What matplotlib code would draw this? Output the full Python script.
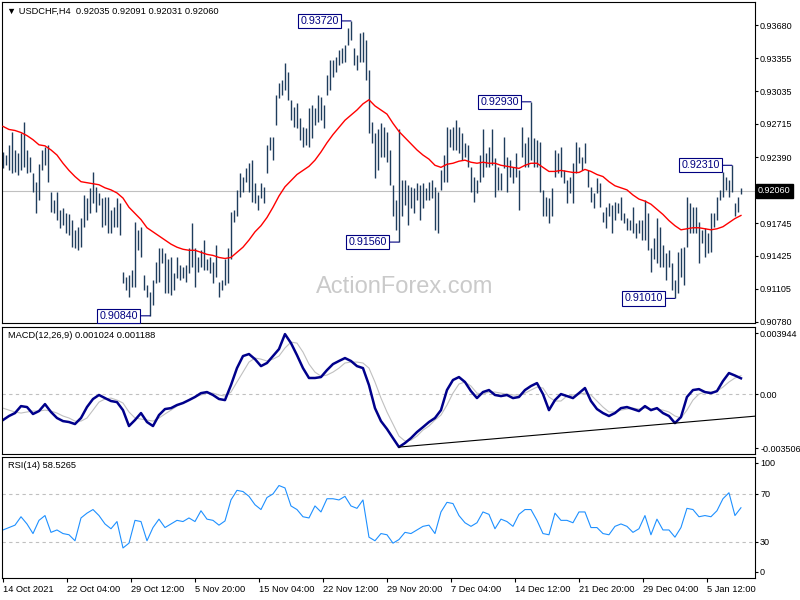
import numpy as np
import matplotlib as mpl
mpl.use('Agg')
import matplotlib.pyplot as plt
import matplotlib.transforms as mtransforms

plt.rcParams['font.family'] = ['Liberation Sans', 'DejaVu Sans']

# USDCHF H4 bars (high / low)
highs = [
    .9244, .9241, .9251, .9264, .9246, .9243, .9263, .9273, .9246, .9239,
    .9223, .9215, .9232, .9246, .9249, .9251, .9205, .9197, .9205, .9187,
    .9189, .9184, .9183, .9178, .9168, .9171, .9180, .9202, .9199, .9209,
    .9224, .9210, .9204, .9199, .9200, .9200, .9187, .9190, .9199, .9194,
    .9127, .9122, .9124, .9129, .9176, .9168, .9171, .9124, .9114, .9107,
    .9119, .9137, .9150, .9150, .9145, .9139, .9141, .9126, .9141, .9134,
    .9132, .9134, .9150, .9175, .9150, .9141, .9148, .9158, .9139, .9141,
    .9137, .9153, .9117, .9119, .9139, .9150, .9185, .9187, .9207, .9223,
    .9220, .9228, .9233, .9236, .9214, .9202, .9214, .9210, .9251, .9259,
    .9259, .9300, .9311, .9314, .9331, .9322, .9295, .9288, .9292, .9277,
    .9268, .9267, .9287, .9290, .9287, .9300, .9298, .9290, .9319, .9334,
    .9334, .9337, .9344, .9346, .9348, .9365, .9372, .9346, .9339, .9360,
    .9361, .9353, .9324, .9273, .9263, .9266, .9272, .9268, .9264, .9246,
    .9212, .9197, .9266, .9217, .9217, .9212, .9210, .9209, .9214, .9212,
    .9214, .9209, .9215, .9217, .9210, .9205, .9226, .9241, .9268, .9266,
    .9268, .9275, .9268, .9263, .9253, .9251, .9229, .9220, .9217, .9241,
    .9266, .9243, .9249, .9266, .9238, .9229, .9223, .9259, .9239, .9236,
    .9229, .9243, .9226, .9268, .9253, .9259, .9293, .9258, .9256, .9254,
    .9207, .9200, .9199, .9209, .9246, .9243, .9249, .9226, .9217, .9220,
    .9233, .9254, .9249, .9239, .9253, .9226, .9210, .9204, .9219, .9214,
    .9185, .9190, .9194, .9192, .9195, .9194, .9200, .9184, .9180, .9178,
    .9190, .9175, .9178, .9178, .9197, .9184, .9150, .9160, .9180, .9171,
    .9153, .9145, .9148, .9136, .9119, .9146, .9150, .9151, .9200, .9194,
    .9190, .9190, .9176, .9168, .9170, .9165, .9184, .9184, .9200, .9207,
    .9224, .9220, .9217, .9231, .9194, .9200, .9209,
]
lows = [
    .9228, .9231, .9226, .9223, .9224, .9222, .9226, .9229, .9223, .9224,
    .9205, .9184, .9197, .9226, .9231, .9215, .9185, .9184, .9178, .9170,
    .9173, .9165, .9163, .9151, .9150, .9148, .9151, .9171, .9178, .9184,
    .9194, .9185, .9192, .9171, .9173, .9165, .9165, .9171, .9171, .9163,
    .9116, .9109, .9102, .9112, .9112, .9148, .9141, .9109, .9102, .9084,
    .9095, .9116, .9117, .9136, .9106, .9106, .9104, .9109, .9121, .9119,
    .9121, .9117, .9126, .9132, .9112, .9127, .9132, .9129, .9129, .9126,
    .9116, .9122, .9102, .9109, .9114, .9116, .9139, .9176, .9181, .9200,
    .9205, .9215, .9205, .9195, .9194, .9187, .9199, .9194, .9223, .9246,
    .9236, .9270, .9297, .9300, .9305, .9295, .9275, .9268, .9267, .9256,
    .9249, .9251, .9249, .9258, .9270, .9273, .9275, .9267, .9300, .9305,
    .9317, .9322, .9329, .9331, .9332, .9348, .9353, .9329, .9324, .9332,
    .9332, .9314, .9263, .9253, .9219, .9226, .9239, .9239, .9234, .9212,
    .9181, .9168, .9156, .9181, .9192, .9173, .9189, .9184, .9197, .9178,
    .9189, .9197, .9197, .9199, .9168, .9165, .9207, .9215, .9215, .9249,
    .9246, .9246, .9243, .9236, .9239, .9229, .9205, .9195, .9204, .9215,
    .9220, .9229, .9229, .9231, .9200, .9207, .9207, .9228, .9205, .9220,
    .9214, .9220, .9187, .9239, .9229, .9229, .9236, .9229, .9229, .9205,
    .9181, .9181, .9175, .9181, .9220, .9223, .9220, .9214, .9194, .9204,
    .9194, .9223, .9233, .9226, .9233, .9210, .9195, .9189, .9204, .9190,
    .9176, .9170, .9181, .9165, .9178, .9184, .9178, .9175, .9168, .9168,
    .9165, .9160, .9165, .9158, .9158, .9148, .9127, .9139, .9136, .9132,
    .9132, .9119, .9132, .9109, .9101, .9106, .9122, .9114, .9151, .9165,
    .9165, .9165, .9136, .9155, .9141, .9145, .9146, .9171, .9178, .9197,
    .9200, .9207, .9200, .9205, .9181, .9185, .9203,
]
last_ohlc = [0.92035, 0.92091, 0.92031, 0.92060]

# indicator values, one every second bar
ma_values = [
    .9269, .9266, .9265, .9263, .9260, .9256, .9251, .9250, .9246, .9241,
    .9233, .9226, .9220, .9215, .9214, .9213, .9212, .9209, .9207, .9204,
    .9199, .9190, .9184, .9178, .9170, .9166, .9162, .9158, .9154, .9151,
    .9149, .9148, .9148, .9146, .9144, .9143, .9141, .9140, .9141, .9146,
    .9151, .9158, .9166, .9172, .9180, .9190, .9201, .9210, .9216, .9222,
    .9226, .9230, .9236, .9244, .9253, .9261, .9268, .9275, .9280, .9285,
    .9291, .9295, .9289, .9285, .9281, .9272, .9264, .9258, .9252, .9246,
    .9241, .9237, .9231, .9229, .9232, .9233, .9235, .9236, .9234, .9233,
    .9234, .9233, .9233, .9231, .9230, .9229, .9228, .9231, .9233, .9233,
    .9229, .9225, .9225, .9226, .9225, .9224, .9224, .9227, .9225, .9222,
    .9220, .9215, .9211, .9209, .9207, .9202, .9198, .9196, .9193, .9188,
    .9183, .9177, .9172, .9168, .9169, .9170, .9170, .9169, .9168, .9169,
    .9171, .9175, .9179, .9182,
]
macd_main = [
    -0.00168, -0.00142, -0.00123, -0.00078, -0.00084, -0.00129, -0.00110, -0.00065, -0.00116, -0.00155,
    -0.00175, -0.00181, -0.00194, -0.00155, -0.00084, -0.00032, -0.00006, -0.00026, -0.00045, -0.00052,
    -0.00104, -0.00207, -0.00168, -0.00123, -0.00181, -0.00207, -0.00136, -0.00097, -0.00091, -0.00071,
    -0.00058, -0.00039, -0.00019, 0.00006, 0.00013, -0.00006, -0.00032, -0.00039, 0.00058, 0.00168,
    0.00246, 0.00259, 0.00226, 0.00181, 0.00201, 0.00246, 0.00291, 0.00388, 0.00330, 0.00252,
    0.00168, 0.00104, 0.00104, 0.00110, 0.00155, 0.00194, 0.00214, 0.00233, 0.00214, 0.00181,
    0.00168, 0.00058, -0.00091, -0.00175, -0.00226, -0.00285, -0.00343, -0.00317, -0.00285, -0.00246,
    -0.00214, -0.00181, -0.00155, -0.00104, 0.00026, 0.00091, 0.00110, 0.00078, 0.00019, -0.00026,
    0.00013, 0.00026, -0.00006, -0.00013, -0.00006, -0.00026, -0.00019, 0.00026, 0.00052, 0.00071,
    0.00000, -0.00104, -0.00039, 0.00000, -0.00013, -0.00026, 0.00006, 0.00039, -0.00045, -0.00097,
    -0.00123, -0.00142, -0.00123, -0.00091, -0.00084, -0.00097, -0.00110, -0.00078, -0.00104, -0.00091,
    -0.00123, -0.00142, -0.00188, -0.00149, -0.00019, 0.00026, 0.00032, 0.00013, 0.00006, 0.00019,
    0.00084, 0.00136, 0.00120, 0.00102,
]
macd_signal = [
    -0.00091, -0.00104, -0.00116, -0.00123, -0.00116, -0.00110, -0.00110, -0.00104, -0.00110, -0.00123,
    -0.00142, -0.00155, -0.00175, -0.00175, -0.00155, -0.00104, -0.00052, -0.00032, -0.00026, -0.00039,
    -0.00058, -0.00116, -0.00155, -0.00162, -0.00168, -0.00175, -0.00155, -0.00129, -0.00104, -0.00078,
    -0.00058, -0.00039, -0.00019, -0.00006, 0.00006, 0.00006, -0.00006, -0.00013, 0.00013, 0.00078,
    0.00142, 0.00207, 0.00233, 0.00226, 0.00214, 0.00226, 0.00246, 0.00298, 0.00336, 0.00330,
    0.00272, 0.00194, 0.00142, 0.00116, 0.00123, 0.00142, 0.00168, 0.00201, 0.00207, 0.00207,
    0.00201, 0.00168, 0.00078, -0.00026, -0.00116, -0.00194, -0.00272, -0.00304, -0.00298, -0.00272,
    -0.00233, -0.00207, -0.00168, -0.00136, -0.00071, 0.00006, 0.00065, 0.00078, 0.00052, 0.00006,
    0.00000, 0.00013, 0.00013, 0.00006, 0.00000, -0.00006, -0.00006, 0.00006, 0.00026, 0.00045,
    0.00039, -0.00019, -0.00045, -0.00045, -0.00013, -0.00006, 0.00000, 0.00006, -0.00006, -0.00045,
    -0.00084, -0.00116, -0.00116, -0.00104, -0.00097, -0.00091, -0.00097, -0.00091, -0.00097, -0.00097,
    -0.00104, -0.00116, -0.00142, -0.00155, -0.00104, -0.00039, 0.00000, 0.00013, 0.00013, 0.00019,
    0.00045, 0.00078, 0.00104, 0.00119,
]
rsi_values = [
    40, 42, 44, 51, 45, 37, 48, 52, 38, 40,
    37, 36, 31, 50, 54, 57, 52, 45, 41, 47,
    25, 29, 48, 47, 31, 42, 49, 42, 45, 48,
    47, 50, 47, 56, 49, 48, 44, 47.5, 65, 73,
    72, 68, 61, 57, 67, 70, 77, 75, 60, 57,
    51, 50, 60, 55, 66, 66, 65, 68, 60, 58,
    65, 34, 31, 37, 36, 29, 32, 38, 37, 40,
    43, 44, 37, 55, 63, 62, 52, 46, 43, 46,
    55, 53, 41, 49, 47, 43, 53, 57, 57, 48,
    37, 36, 54, 48, 48, 46, 55, 55, 42, 42,
    37, 36, 43, 45, 43, 38, 41, 52, 36, 49,
    40, 40, 34, 42, 58, 57, 51, 52, 51, 56,
    66, 71, 52, 58.5,
]
macd_readout = (0.001024, 0.001188)
rsi_readout = 58.5265

peak_labels = [0.93720, 0.90840, 0.91560, 0.92930, 0.92310, 0.91010]
price_ticks = [0.93680, 0.93355, 0.93035, 0.92715, 0.92390,
               0.91745, 0.91425, 0.91105, 0.90780]
date_labels = ['14 Oct 2021', '22 Oct 04:00', '29 Oct 12:00', '5 Nov 20:00',
               '15 Nov 04:00', '22 Nov 12:00', '29 Nov 20:00', '7 Dec 04:00',
               '14 Dec 12:00', '21 Dec 20:00', '29 Dec 04:00', '5 Jan 12:00']

BAR_COLOR = '#1f3d5c'
NAVY = '#000080'
SMALL = 6.5

highs = np.array(highs)
lows = np.array(lows)
bar_x = np.arange(len(highs))
sub_x = bar_x[::2]
x_lim = (-0.17, 250.67)
label_step = 64 / 3

fig = plt.figure(figsize=(8, 6), dpi=100)
ax = fig.add_axes([0.0031, 0.4617, 0.9406, 0.535])
ax_macd = fig.add_axes([0.0031, 0.2433, 0.9406, 0.2117])
ax_rsi = fig.add_axes([0.0031, 0.0367, 0.9406, 0.2017])

for a in (ax, ax_macd, ax_rsi):
    a.set_xlim(*x_lim)
    a.yaxis.tick_right()
    a.tick_params(axis='y', length=2.5, width=0.8, pad=1.2, labelsize=SMALL)
    for s in a.spines.values():
        s.set_linewidth(0.8)

# --- price panel
ax.text(0.535, 0.112, 'ActionForex.com', transform=ax.transAxes, ha='center',
        va='center', fontsize=17, color='#cacaca', zorder=0)
ax.axhline(last_ohlc[3], color='#c0c0c0', lw=0.8, zorder=1)
ax.vlines(bar_x, lows, highs, color=BAR_COLOR, lw=1.0, zorder=2)
ax.plot(sub_x, ma_values, color='red', lw=1.0, zorder=3)
ax.set_ylim(0.90770, 0.93905)
ax.set_xticks([])
ax.set_yticks(price_ticks, [f'{v:.5f}' for v in price_ticks])

for val in peak_labels:
    hit = np.flatnonzero(np.isclose(highs, val))
    if len(hit) == 0:
        hit = np.flatnonzero(np.isclose(lows, val))
    ax.annotate(f'{val:.5f}', xy=(hit[0], val), xytext=(-12, 0),
                textcoords='offset pixels', ha='right', va='center',
                fontsize=7.7, color=NAVY, zorder=5,
                bbox=dict(boxstyle='square,pad=0.2', fc='white', ec=NAVY, lw=0.8),
                arrowprops=dict(arrowstyle='-', color=NAVY, lw=0.8,
                                shrinkA=0, shrinkB=0))

ax.annotate(f'{last_ohlc[3]:.5f}', xy=(1, last_ohlc[3]),
            xycoords=('axes fraction', 'data'), xytext=(3, 0),
            textcoords='offset pixels', ha='left', va='center',
            fontsize=SMALL, color='white', annotation_clip=False,
            bbox=dict(boxstyle='square,pad=0.25', fc='black', ec='black'))

title_tf = mtransforms.offset_copy(ax.transAxes, fig=fig, x=5, y=-9, units='dots')
ax.text(0, 1, '\u25bc USDCHF,H4  ' + ' '.join(f'{v:.5f}' for v in last_ohlc),
        transform=title_tf, ha='left', va='center', fontsize=6.7)

# --- MACD panel
ax_macd.axhline(0, color='#c0c0c0', lw=0.8, ls=(0, (3, 3)))
ax_macd.plot(sub_x, macd_signal, color='#c0c0c0', lw=0.8)
ax_macd.plot(sub_x, macd_main, color='#00008b', lw=1.8)
t0, t1 = 66, 112
slope = (macd_main[t1] - macd_main[t0]) / (sub_x[t1] - sub_x[t0])
ax_macd.plot([sub_x[t0], x_lim[1]],
             [macd_main[t0], macd_main[t0] + slope * (x_lim[1] - sub_x[t0])],
             color='black', lw=0.8)
ax_macd.set_ylim(-0.00388, 0.00434)
ax_macd.set_xticks([])
ax_macd.set_yticks([0.003944, 0.0, -0.003506], ['0.003944', '0.00', '-0.003506'])
macd_tf = mtransforms.offset_copy(ax_macd.transAxes, fig=fig, x=6, y=-9, units='dots')
ax_macd.text(0, 1, 'MACD(12,26,9) %.6f %.6f' % macd_readout, transform=macd_tf,
             ha='left', va='center', fontsize=6.7)

# --- RSI panel
for lvl in (70, 30):
    ax_rsi.axhline(lvl, color='#c0c0c0', lw=0.8, ls=(0, (3, 3)))
ax_rsi.plot(sub_x, rsi_values, color='#1e90ff', lw=0.8)
ax_rsi.set_ylim(0, 100.8)
ax_rsi.set_yticks([95.8, 70, 30, 5], ['100', '70', '30', '0'])
ax_rsi.set_xticks(np.arange(len(date_labels)) * label_step, date_labels, ha='left')
ax_rsi.tick_params(axis='x', length=3, width=0.8, pad=2, labelsize=6.7)
rsi_tf = mtransforms.offset_copy(ax_rsi.transAxes, fig=fig, x=6, y=-9, units='dots')
ax_rsi.text(0, 1, 'RSI(14) %.4f' % rsi_readout, transform=rsi_tf,
            ha='left', va='center', fontsize=6.7)

fig.savefig('out.png', dpi=100)
